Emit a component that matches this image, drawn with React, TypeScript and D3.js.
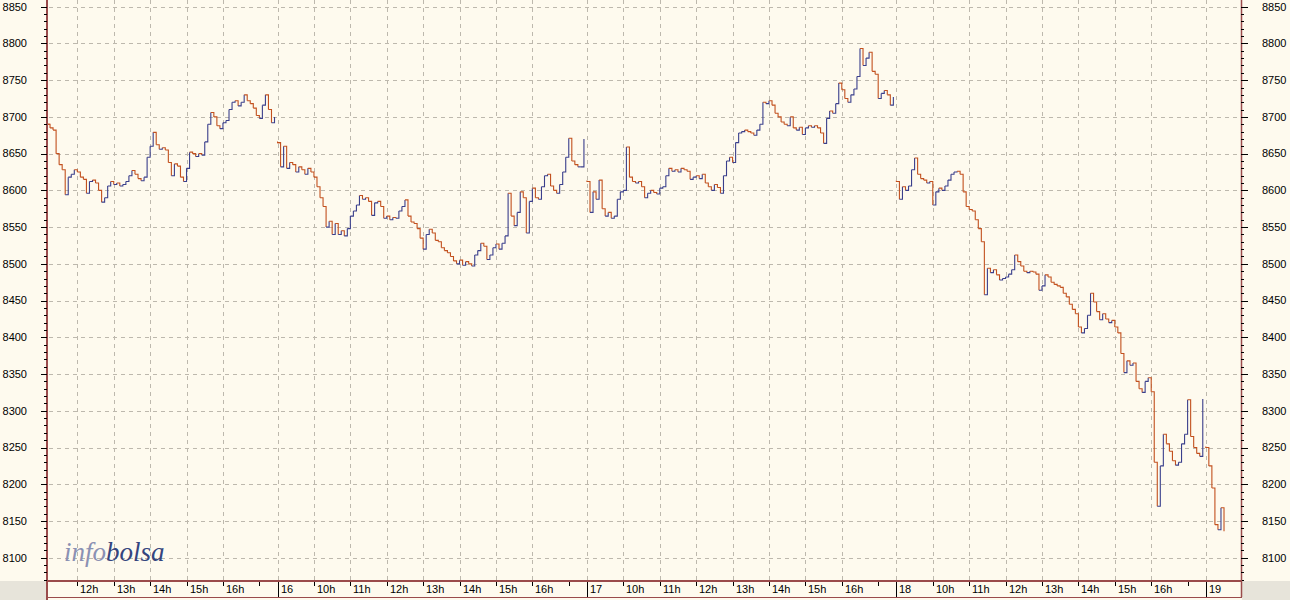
import React from "react";
import * as d3 from "d3";

// ---- data -------------------------------------------------------------
const dayLabels = ["15", "16", "17", "18", "19"];
const dayFirstBar = ["11:10", "09:00", "09:00", "09:00", "09:00"];
const dayVisibleEnd = ["17:30", "17:30", "17:30", "17:30", "09:58"];
const barMinutes = 5;

// 5-minute closes
const closesDay15 = [
  8690, 8685, 8682, 8650, 8635, 8628, 8594, 8618, 8622, 8628,
  8625, 8618, 8615, 8596, 8612, 8614, 8610, 8600, 8584, 8590,
  8606, 8612, 8608, 8610, 8606, 8608, 8612, 8620, 8627, 8622,
  8616, 8613, 8618, 8645, 8660, 8679, 8662, 8656, 8658, 8655,
  8638, 8620, 8636, 8633, 8618, 8612, 8630, 8652, 8650, 8646,
  8650, 8648, 8666, 8690, 8706, 8700, 8688, 8684, 8692, 8695,
  8710, 8720, 8722, 8715, 8720, 8730, 8722, 8718, 8712, 8702,
  8698, 8716, 8730, 8710, 8692, 8700,
];
const closesDay16 = [
  8665, 8632, 8660, 8630, 8638, 8635, 8625, 8632, 8628, 8622,
  8630, 8625, 8618, 8605, 8590, 8578, 8550, 8558, 8540, 8555,
  8540, 8545, 8538, 8548, 8565, 8572, 8580, 8593, 8588, 8590,
  8585, 8566, 8583, 8585, 8578, 8562, 8565, 8560, 8563, 8562,
  8572, 8578, 8587, 8565, 8557, 8555, 8548, 8535, 8520, 8540,
  8547, 8542, 8532, 8530, 8522, 8518, 8515, 8510, 8504, 8500,
  8505, 8498, 8503, 8500, 8497, 8512, 8518, 8528, 8524, 8506,
  8512, 8522, 8527, 8520, 8528, 8538, 8596, 8565, 8552, 8570,
  8598, 8590, 8542, 8585, 8603, 8590, 8588, 8605, 8620, 8622,
  8606, 8600, 8596, 8608, 8625, 8645, 8671, 8640, 8635, 8632,
  8632, 8670,
];
const closesDay17 = [
  8612, 8570, 8598, 8588, 8614, 8575, 8565, 8570, 8562, 8565,
  8588, 8598, 8600, 8659, 8618, 8612, 8610, 8612, 8605, 8590,
  8596, 8600, 8597, 8595, 8603, 8605, 8620, 8630, 8626, 8628,
  8625, 8630, 8628, 8626, 8615, 8618, 8620, 8616, 8622, 8610,
  8605, 8600, 8608, 8604, 8596, 8620, 8640, 8645, 8638, 8665,
  8678, 8680, 8682, 8680, 8678, 8675, 8682, 8690, 8720, 8718,
  8722, 8716, 8705, 8700, 8693, 8690, 8688, 8700, 8685, 8682,
  8686, 8676, 8685, 8688, 8686, 8688, 8685, 8678, 8664, 8698,
  8708, 8705, 8718, 8746, 8737, 8725, 8720, 8730, 8738, 8755,
  8793, 8770, 8780, 8788, 8762, 8758, 8725, 8732, 8736, 8730,
  8716, 8727,
];
const closesDay18 = [
  8612, 8588, 8605, 8600, 8606, 8628, 8644, 8622, 8616, 8614,
  8610, 8612, 8580, 8598, 8603, 8600, 8606, 8614, 8622, 8625,
  8626, 8622, 8598, 8578, 8574, 8572, 8560, 8548, 8530, 8458,
  8494, 8488, 8492, 8485, 8478, 8480, 8482, 8486, 8492, 8512,
  8503, 8497, 8490, 8488, 8490, 8489, 8486, 8464, 8470, 8485,
  8482, 8475, 8472, 8470, 8468, 8460, 8455, 8445, 8438, 8432,
  8414, 8406, 8412, 8430, 8460, 8448, 8435, 8424, 8432, 8425,
  8420, 8423, 8414, 8406, 8378, 8352, 8368, 8362, 8365, 8340,
  8330, 8325, 8340, 8345, 8326, 8230, 8170, 8225, 8268, 8255,
  8245, 8232, 8226, 8230, 8255, 8268, 8315, 8265, 8250, 8242,
  8238, 8316,
];
const closesDay19 = [8250, 8225, 8195, 8145, 8138, 8168, 8136];

const yTickLabels = [
  "8100", "8150", "8200", "8250", "8300", "8350", "8400", "8450",
  "8500", "8550", "8600", "8650", "8700", "8750", "8800", "8850",
];
const hourTickValues = [10, 11, 12, 13, 14, 15, 16, 17];

// ---- helpers ----------------------------------------------------------
const toMin = (s: string) => {
  const [h, m] = s.split(":").map(Number);
  return h * 60 + m;
};
const SESSION_OPEN = toMin("09:00");
const SESSION_CLOSE = toMin("17:30");

const W = 1290;
const H = 600;
const PL = 47; // plot left
const PR = 1241; // plot right
const PB = 580; // plot bottom
const BAND_B = 597;

const UP = "#3a3f8c";
const DOWN = "#c2501e";
const AXIS = "#9a4b4b";
const GRID = "#bdb8ad";
const BG = "#fefaee";
const GREY = "#e7e4da";

export default function App() {
  const allCloses = [closesDay15, closesDay16, closesDay17, closesDay18, closesDay19];

  // cumulative trading minutes per day segment
  const segStart = dayFirstBar.map(toMin);
  const segEnd = dayVisibleEnd.map(toMin);
  const offsets: number[] = [];
  let acc = 0;
  segStart.forEach((s, i) => {
    offsets.push(acc);
    acc += segEnd[i] - s;
  });
  const total = acc;

  const x = d3.scaleLinear().domain([0, total]).range([PL, PR]);
  const pos = (d: number, minute: number) => x(offsets[d] + minute - segStart[d]);
  const y = d3.scaleLinear().domain([8069.7, 8859.1]).range([PB, 0]);

  // price segments
  const segs: { d: string; c: string }[] = [];
  allCloses.forEach((closes, d) => {
    closes.forEach((c, i) => {
      const xi = pos(d, segStart[d] + i * barMinutes);
      if (i === 0) {
        const xn = pos(d, segStart[d] + barMinutes);
        segs.push({ d: `M${xi},${y(c) - 1}V${y(c)}H${xn}`, c: DOWN });
        return;
      }
      const prev = closes[i - 1];
      const xp = pos(d, segStart[d] + (i - 1) * barMinutes);
      segs.push({
        d: `M${xp},${y(prev)}H${xi}V${y(c)}`,
        c: c >= prev ? UP : DOWN,
      });
    });
  });

  // bottom ticks
  const hourTicks: { x: number; label: string; grid: boolean; day: boolean }[] = [];
  dayLabels.forEach((lab, d) => {
    if (segStart[d] === SESSION_OPEN) {
      hourTicks.push({ x: pos(d, SESSION_OPEN), label: lab, grid: true, day: true });
    }
    hourTickValues.forEach((h) => {
      const m = h * 60;
      if (m <= segStart[d] || m > segEnd[d]) return;
      hourTicks.push({
        x: pos(d, m),
        label: m === SESSION_CLOSE - 30 ? "" : `${h}h`,
        grid: m !== SESSION_CLOSE - 30,
        day: false,
      });
    });
  });

  const yMajor = yTickLabels.map(Number);
  const yMinor = d3.range(8070, 8860, 10).filter((v) => v % 50 !== 0);

  const font = "'Liberation Sans', Arial, sans-serif";

  return (
    <div style={{ position: "fixed", left: 0, top: 0 }}>
      <svg width={W} height={H} style={{ display: "block" }}>
        <rect x={0} y={0} width={W} height={H} fill={BG} />
        <rect x={0} y={PB + 1} width={PL} height={H - PB} fill={GREY} />
        <rect x={PR + 1} y={PB + 1} width={W - PR} height={H - PB} fill={GREY} />

        {/* horizontal grid */}
        {yMajor.map((v) => (
          <line key={"hg" + v} x1={PL + 2} x2={PR} y1={Math.round(y(v)) + 0.5} y2={Math.round(y(v)) + 0.5}
            stroke={GRID} strokeDasharray="4,4" />
        ))}
        {/* vertical grid */}
        {hourTicks.filter((t) => t.grid).map((t, i) => (
          <line key={"vg" + i} x1={Math.round(t.x) + 0.5} x2={Math.round(t.x) + 0.5} y1={0} y2={PB}
            stroke={GRID} strokeDasharray="4,4" />
        ))}

        {/* price */}
        {segs.map((s, i) => (
          <path key={"p" + i} d={s.d} fill="none" stroke={s.c} strokeWidth={1.1} />
        ))}

        {/* logo */}
        <text x={64} y={561} fontFamily="'Liberation Serif', 'DejaVu Serif', serif" fontStyle="italic" fontSize={27}>
          <tspan fill="#8b91b3">info</tspan>
          <tspan fill="#34457e">bolsa</tspan>
        </text>

        {/* left axis */}
        <line x1={PL} x2={PL} y1={0} y2={BAND_B + 3} stroke={AXIS} strokeWidth={2} />
        {yMajor.map((v) => (
          <g key={"ly" + v}>
            <line x1={PL - 6} x2={PL} y1={Math.round(y(v)) + 0.5} y2={Math.round(y(v)) + 0.5} stroke="#000" />
            <text x={27} y={y(v)} dy="0.35em" textAnchor="end" fontFamily={font} fontSize={11} fill="#000">{v}</text>
          </g>
        ))}
        {yMinor.map((v) => (
          <line key={"lm" + v} x1={PL - 3} x2={PL} y1={Math.round(y(v)) + 0.5} y2={Math.round(y(v)) + 0.5} stroke="#000" />
        ))}

        {/* right axis */}
        <line x1={PR + 0.5} x2={PR + 0.5} y1={0} y2={BAND_B} stroke={AXIS} strokeWidth={1.5} />
        {yMajor.map((v) => (
          <g key={"ry" + v}>
            <line x1={PR} x2={PR + 7} y1={Math.round(y(v)) + 0.5} y2={Math.round(y(v)) + 0.5} stroke="#000" />
            <text x={1262} y={y(v)} dy="0.35em" fontFamily={font} fontSize={11} fill="#000">{v}</text>
          </g>
        ))}
        {yMinor.map((v) => (
          <line key={"rm" + v} x1={PR} x2={PR + 3} y1={Math.round(y(v)) + 0.5} y2={Math.round(y(v)) + 0.5} stroke="#000" />
        ))}

        {/* bottom band */}
        <line x1={PL} x2={PR + 1} y1={PB + 1} y2={PB + 1} stroke={AXIS} strokeWidth={2} />
        <line x1={PL} x2={PR + 1} y1={BAND_B + 0.5} y2={BAND_B + 0.5} stroke={AXIS} strokeWidth={1} />
        <line x1={PR + 0.5} x2={PR + 0.5} y1={PB} y2={BAND_B} stroke={AXIS} strokeWidth={1} />
        {hourTicks.map((t, i) => (
          <g key={"bt" + i}>
            <line x1={Math.round(t.x) + 0.5} x2={Math.round(t.x) + 0.5} y1={PB + 2} y2={t.day ? BAND_B : PB + 6}
              stroke="#000" />
            {t.label && (
              <text x={Math.round(t.x) + 3} y={593} fontFamily={font} fontSize={11} fill="#000">{t.label}</text>
            )}
          </g>
        ))}
      </svg>
    </div>
  );
}
